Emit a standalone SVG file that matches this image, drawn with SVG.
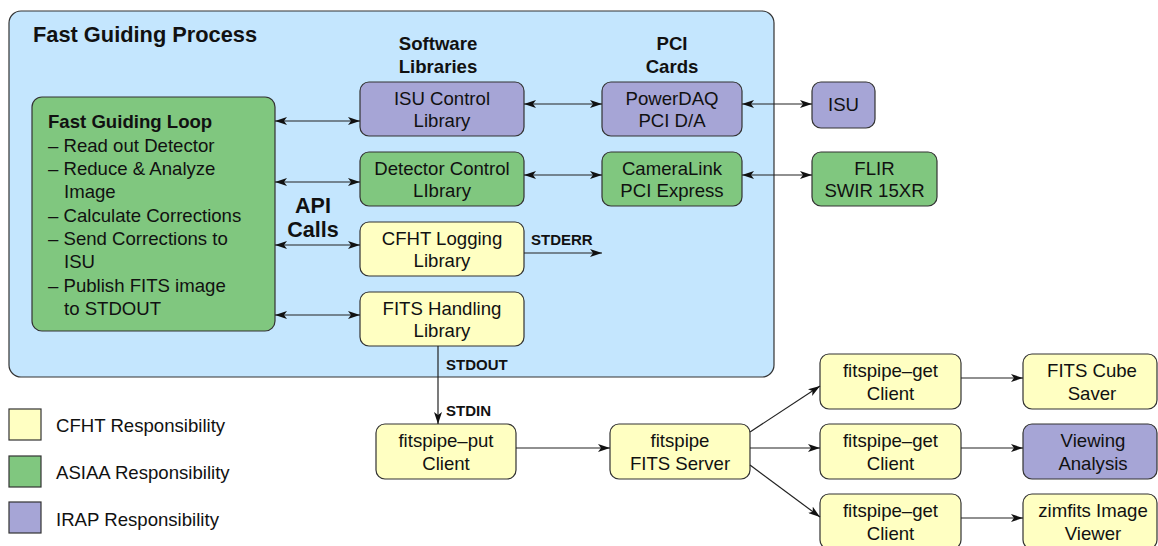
<svg xmlns="http://www.w3.org/2000/svg" width="1158" height="546" viewBox="0 0 1158 546">
  <style>
    .box { stroke: #333333; stroke-width: 1.2; }
    .yellow { fill: #ffffc2; }
    .green { fill: #80c77f; }
    .purple { fill: #a6a5d6; }
    .blue { fill: #c4e6fe; }
    text { font-family: "Liberation Sans", Arial, Helvetica, sans-serif; fill: #111111; }
    .t { font-size: 18.6px; }
    .c { text-anchor: middle; }
    .b { font-weight: bold; }
    .lbl { font-size: 15px; font-weight: bold; }
    .edge { stroke: #222222; stroke-width: 1.2; fill: none; }
  </style>
  <defs>
    <marker id="head" viewBox="0 0 12 8" refX="12" refY="4" markerWidth="12" markerHeight="8" markerUnits="userSpaceOnUse" orient="auto-start-reverse">
      <path d="M0,0 L12,4 L0,8 L3,4 z" fill="#111111"/>
    </marker>
  </defs>

  <!-- process container -->
  <g id="process">
    <rect class="box blue" x="9" y="11" width="765" height="366" rx="12"/>
    <text class="b" x="33" y="42" font-size="21.8">Fast Guiding Process</text>
    <text class="t b c" x="438" y="50">Software</text>
    <text class="t b c" x="438" y="73">Libraries</text>
    <text class="t b c" x="672" y="50">PCI</text>
    <text class="t b c" x="672" y="73">Cards</text>
    <text class="b c" x="313" y="213" font-size="21.5">API</text>
    <text class="b c" x="313" y="237" font-size="21.5">Calls</text>
  </g>

  <g id="loop">
    <rect class="box green" x="32" y="97" width="243" height="234" rx="10"/>
    <text class="t b" x="48" y="128">Fast Guiding Loop</text>
    <text class="t" x="48" y="152">– Read out Detector</text>
    <text class="t" x="48" y="175">– Reduce &amp; Analyze</text>
    <text class="t" x="64" y="198">Image</text>
    <text class="t" x="48" y="222">– Calculate Corrections</text>
    <text class="t" x="48" y="245">– Send Corrections to</text>
    <text class="t" x="64" y="268">ISU</text>
    <text class="t" x="48" y="292">– Publish FITS image</text>
    <text class="t" x="64" y="315">to STDOUT</text>
  </g>

  <g id="isu-lib">
    <rect class="box purple" x="360" y="82" width="164" height="54" rx="9"/>
    <text class="t c" x="442" y="105">ISU Control</text>
    <text class="t c" x="442" y="127">Library</text>
  </g>
  <g id="det-lib">
    <rect class="box green" x="360" y="152" width="164" height="54" rx="9"/>
    <text class="t c" x="442" y="175">Detector Control</text>
    <text class="t c" x="442" y="197">LIbrary</text>
  </g>
  <g id="log-lib">
    <rect class="box yellow" x="360" y="222" width="164" height="54" rx="9"/>
    <text class="t c" x="442" y="245">CFHT Logging</text>
    <text class="t c" x="442" y="267">Library</text>
  </g>
  <g id="fits-lib">
    <rect class="box yellow" x="360" y="292" width="164" height="54" rx="9"/>
    <text class="t c" x="442" y="315">FITS Handling</text>
    <text class="t c" x="442" y="337">Library</text>
  </g>

  <g id="powerdaq">
    <rect class="box purple" x="602" y="82" width="140" height="54" rx="9"/>
    <text class="t c" x="672" y="105">PowerDAQ</text>
    <text class="t c" x="672" y="127">PCI D/A</text>
  </g>
  <g id="cameralink">
    <rect class="box green" x="602" y="152" width="140" height="54" rx="9"/>
    <text class="t c" x="672" y="175">CameraLink</text>
    <text class="t c" x="672" y="197">PCI Express</text>
  </g>

  <g id="isu">
    <rect class="box purple" x="812" y="82" width="63" height="46" rx="9"/>
    <text class="t c" x="843.5" y="111">ISU</text>
  </g>
  <g id="flir">
    <rect class="box green" x="812" y="152" width="125" height="54" rx="9"/>
    <text class="t c" x="874.5" y="175">FLIR</text>
    <text class="t c" x="874.5" y="197">SWIR 15XR</text>
  </g>

  <g id="put-client">
    <rect class="box yellow" x="376" y="424" width="140" height="55" rx="9"/>
    <text class="t c" x="446" y="447">fitspipe–put</text>
    <text class="t c" x="446" y="470">Client</text>
  </g>
  <g id="server">
    <rect class="box yellow" x="610" y="424" width="140" height="55" rx="9"/>
    <text class="t c" x="680" y="447">fitspipe</text>
    <text class="t c" x="680" y="470">FITS Server</text>
  </g>

  <g id="get-client-1">
    <rect class="box yellow" x="820" y="354" width="141" height="55" rx="9"/>
    <text class="t c" x="890.5" y="377">fitspipe–get</text>
    <text class="t c" x="890.5" y="400">Client</text>
  </g>
  <g id="get-client-2">
    <rect class="box yellow" x="820" y="424" width="141" height="55" rx="9"/>
    <text class="t c" x="890.5" y="447">fitspipe–get</text>
    <text class="t c" x="890.5" y="470">Client</text>
  </g>
  <g id="get-client-3">
    <rect class="box yellow" x="820" y="494" width="141" height="55" rx="9"/>
    <text class="t c" x="890.5" y="517">fitspipe–get</text>
    <text class="t c" x="890.5" y="540">Client</text>
  </g>

  <g id="cube-saver">
    <rect class="box yellow" x="1023" y="354" width="134" height="55" rx="9"/>
    <text class="t c" x="1092" y="377">FITS Cube</text>
    <text class="t c" x="1092" y="400">Saver</text>
  </g>
  <g id="viewing">
    <rect class="box purple" x="1023" y="424" width="134" height="55" rx="9"/>
    <text class="t c" x="1093" y="447">Viewing</text>
    <text class="t c" x="1093" y="470">Analysis</text>
  </g>
  <g id="zimfits">
    <rect class="box yellow" x="1023" y="494" width="134" height="55" rx="9"/>
    <text class="t c" x="1093" y="517">zimfits Image</text>
    <text class="t c" x="1093" y="540">Viewer</text>
  </g>

  <!-- legend -->
  <g id="legend">
    <rect class="box yellow" x="9" y="409" width="32" height="31"/>
    <text class="t" x="56" y="432">CFHT Responsibility</text>
    <rect class="box green" x="9" y="456" width="32" height="31"/>
    <text class="t" x="56" y="479">ASIAA Responsibility</text>
    <rect class="box purple" x="9" y="502" width="32" height="31"/>
    <text class="t" x="56" y="526">IRAP Responsibility</text>
  </g>

  <!-- connectors -->
  <g id="connectors">
    <path class="edge" d="M275,121 H360" marker-start="url(#head)" marker-end="url(#head)"/>
    <path class="edge" d="M275,182 H360" marker-start="url(#head)" marker-end="url(#head)"/>
    <path class="edge" d="M275,245 H360" marker-start="url(#head)" marker-end="url(#head)"/>
    <path class="edge" d="M275,315 H360" marker-start="url(#head)" marker-end="url(#head)"/>
    <path class="edge" d="M524,104 H602" marker-start="url(#head)" marker-end="url(#head)"/>
    <path class="edge" d="M524,175 H602" marker-start="url(#head)" marker-end="url(#head)"/>
    <path class="edge" d="M742,104 H812" marker-start="url(#head)" marker-end="url(#head)"/>
    <path class="edge" d="M742,175 H812" marker-start="url(#head)" marker-end="url(#head)"/>
    <path class="edge" d="M524,253 H602" marker-end="url(#head)"/>
    <text class="lbl" x="531" y="245">STDERR</text>
    <path class="edge" d="M438,346 V424" marker-end="url(#head)"/>
    <text class="lbl" x="446" y="370">STDOUT</text>
    <text class="lbl" x="446" y="416">STDIN</text>
    <path class="edge" d="M516,448 H610" marker-end="url(#head)"/>
    <path class="edge" d="M750,432 L820,386" marker-end="url(#head)"/>
    <path class="edge" d="M750,448 H820" marker-end="url(#head)"/>
    <path class="edge" d="M750,465 L820,517" marker-end="url(#head)"/>
    <path class="edge" d="M961,378 H1023" marker-end="url(#head)"/>
    <path class="edge" d="M961,448 H1023" marker-end="url(#head)"/>
    <path class="edge" d="M961,518 H1023" marker-end="url(#head)"/>
  </g>
</svg>
